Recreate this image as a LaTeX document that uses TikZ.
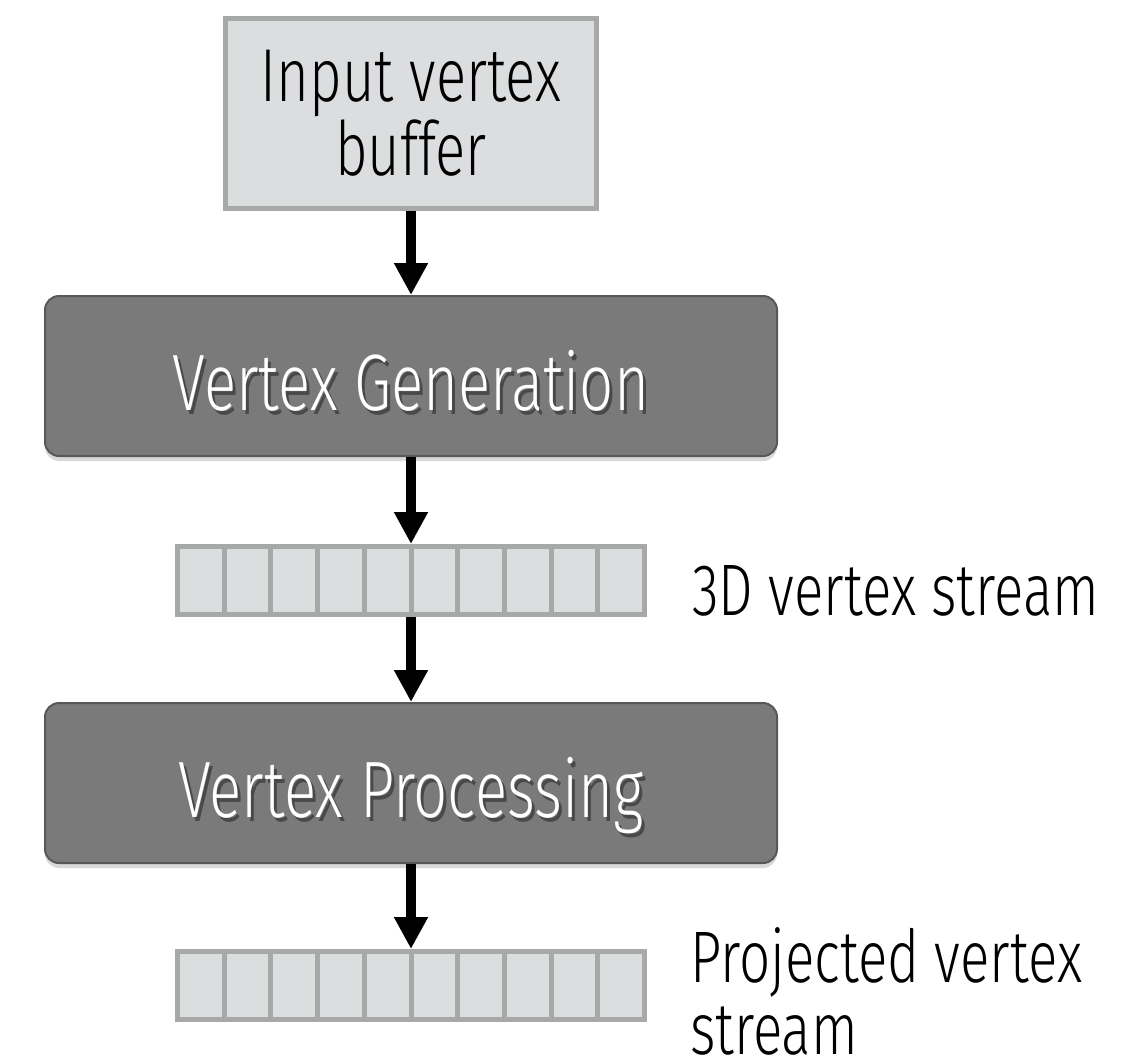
\documentclass[tikz,border=0pt]{standalone}
\usepackage{fontspec}
\IfFontExistsTF{Fira Sans Light}
  {\setmainfont{Fira Sans Light}[FakeStretch=0.75]}
  {\setmainfont{Fira Sans}[FakeStretch=0.75]}
\usepackage{tikz}
\usetikzlibrary{arrows.meta,shadows}

\definecolor{cellfill}{HTML}{DCDDDF}
\definecolor{cellline}{HTML}{A7A9A8}
\definecolor{stagefill}{HTML}{7A7A7A}
\definecolor{stageline}{HTML}{585858}

\begin{document}
\begin{tikzpicture}[x=1pt, y=-1pt,
    bufferbox/.style={draw=cellline, fill=cellfill, line width=5pt,
        minimum width=371pt, minimum height=190pt, inner sep=0pt,
        align=center, font=\fontsize{75}{74}\selectfont},
    stagebox/.style={draw=stageline, fill=stagefill, line width=2pt,
        rounded corners=14pt, minimum width=732pt, minimum height=160pt,
        drop shadow={opacity=0.3, shadow xshift=0pt, shadow yshift=-5pt}},
    stagetext/.style={text=white, anchor=base, inner sep=0pt,
        font=\fontsize{80}{74}\selectfont},
    stageshade/.style={stagetext, text=black, text opacity=0.4},
    cell/.style={draw=cellline, fill=cellfill, line width=5pt,
        minimum width=46.7pt, minimum height=68pt, inner sep=0pt},
    streamlabel/.style={anchor=base west, align=left, inner sep=0pt,
        font=\fontsize{73}{72}\selectfont},
    flowarrow/.style={line width=10pt, -{Triangle[length=32pt, width=32pt]}}]

    \useasboundingbox (0,0) rectangle (1146,1063);

    \node[bufferbox] (input) at (411,113.5) {Input vertex\\buffer};

    \node[stagebox] (gen) at (411,376) {};
    \node[stageshade] (genshade) at ([xshift=3pt, yshift=-38pt]gen.center) {Vertex Generation};
    \node[stagetext] (gentext) at ([yshift=-34pt]gen.center) {Vertex Generation};

    \foreach \i in {1,...,10}
        \node[cell] (pre-\i) at ({177.5+46.7*(\i-0.5)},580.5) {};
    \node[streamlabel] (prelabel) at (692,615) {3D vertex stream};

    \node[stagebox] (proc) at (411,783) {};
    \node[stageshade] (procshade) at ([xshift=3pt, yshift=-38pt]proc.center) {Vertex Processing};
    \node[stagetext] (proctext) at ([yshift=-34pt]proc.center) {Vertex Processing};

    \foreach \i in {1,...,10}
        \node[cell] (post-\i) at ({177.5+46.7*(\i-0.5)},985.5) {};
    \node[streamlabel] (postlabel) at (690,1054) {Projected vertex\\stream};

    \draw[flowarrow] (input) -- (gen);
    \draw[flowarrow] (gen.south) -- (gen.south |- pre-5.north);
    \draw[flowarrow] (proc.north |- pre-5.south) -- (proc.north);
    \draw[flowarrow] (proc.south) -- (proc.south |- post-5.north);
\end{tikzpicture}
\end{document}
